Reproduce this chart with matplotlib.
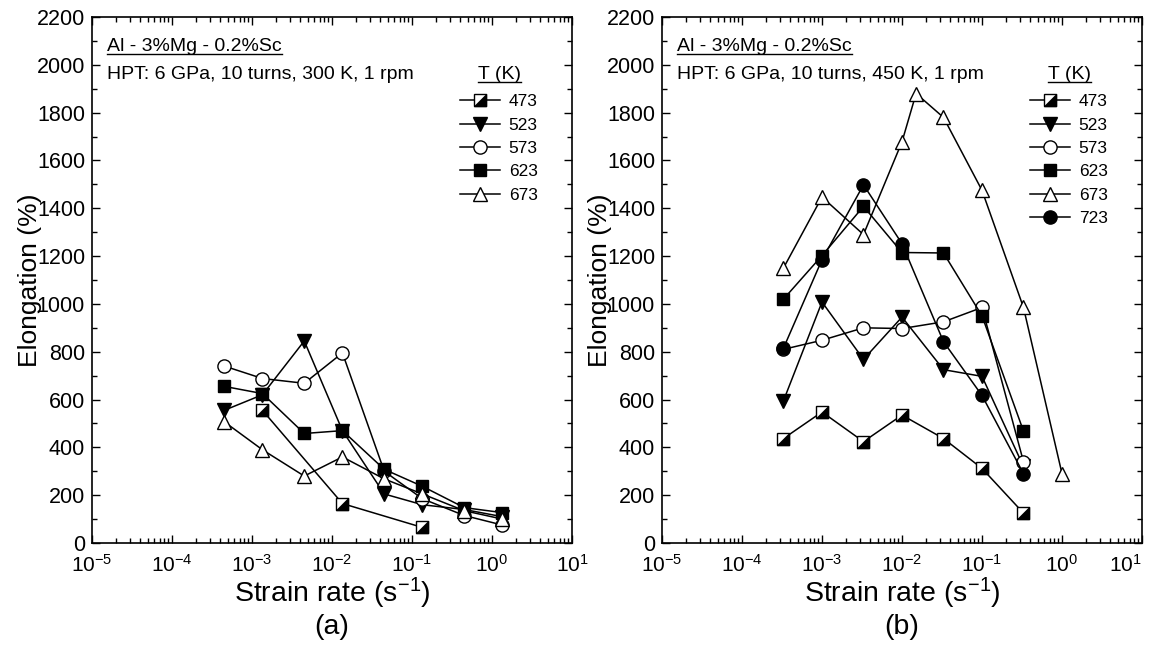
import numpy as np
import matplotlib
matplotlib.use("Agg")
import matplotlib.pyplot as plt
from matplotlib.lines import Line2D
from matplotlib.legend_handler import HandlerTuple
from matplotlib.ticker import MultipleLocator, LogLocator, NullFormatter

plt.rcParams['font.family'] = ['Liberation Sans', 'DejaVu Sans']
plt.rcParams['mathtext.fontset'] = 'custom'
plt.rcParams['mathtext.rm'] = 'Liberation Sans'
plt.rcParams['mathtext.it'] = 'Liberation Sans'
plt.rcParams['mathtext.default'] = 'regular'

# ---- data, panel (a): HPT at 300 K ----
rate_a = [4.5e-4, 1.35e-3, 4.5e-3, 1.35e-2, 4.5e-2, 0.135, 0.45, 1.35]
rate_a_473 = [1.35e-3, 1.35e-2, 0.135]
el_a_473 = [555, 165, 65]
el_a_523 = [555, 620, 845, 470, 205, 160, 140, 110]
el_a_573 = [740, 688, 668, 795, 300, 185, 115, 75]
el_a_623 = [655, 625, 458, 470, 308, 237, 148, 127]
el_a_673 = [507, 390, 280, 360, 268, 205, 135, 100]

# ---- data, panel (b): HPT at 450 K ----
rate_b = [3.3e-4, 1e-3, 3.3e-3, 1e-2, 3.3e-2, 0.1, 0.33]
rate_b_673 = [3.3e-4, 1e-3, 3.3e-3, 1e-2, 1.5e-2, 3.3e-2, 0.1, 0.33, 1.0]
el_b_473 = [437, 548, 424, 535, 437, 312, 125]
el_b_523 = [595, 1008, 768, 945, 725, 697, 320]
el_b_573 = [810, 848, 900, 897, 925, 985, 340]
el_b_623 = [1020, 1202, 1408, 1215, 1213, 950, 468]
el_b_673 = [1150, 1447, 1290, 1678, 1880, 1780, 1475, 985, 290]
el_b_723 = [815, 1185, 1498, 1252, 842, 617, 290]

labels_a = ['473', '523', '573', '623', '673']
labels_b = ['473', '523', '573', '623', '673', '723']

# lower-right half of a square, black
half_tri = [(-1, -1), (1, -1), (1, 1), (-1, -1)]

fig = plt.figure(figsize=(11.5, 6.45), dpi=100)
ax_a = fig.add_axes([92 / 1150, 102 / 645, 480 / 1150, 526 / 645])
ax_b = fig.add_axes([662 / 1150, 102 / 645, 480 / 1150, 526 / 645])

lw = 1.1
ms = 9.5


def series(ax, x, y, kind):
    if kind == 'half':
        l1, = ax.plot(x, y, '-', color='k', lw=lw, marker='s', ms=ms - 0.5,
                      mfc='white', mec='k', mew=1.0)
        l2, = ax.plot(x, y, ls='none', marker=half_tri, ms=ms - 0.5,
                      mfc='k', mec='k', mew=0.6)
        return (l1, l2)
    style = {'tri_down': dict(marker='v', ms=ms + 1, mfc='k'),
             'circle_open': dict(marker='o', ms=ms, mfc='white'),
             'square': dict(marker='s', ms=ms - 0.5, mfc='k'),
             'tri_open': dict(marker='^', ms=ms + 1, mfc='white'),
             'circle': dict(marker='o', ms=ms, mfc='k')}[kind]
    l, = ax.plot(x, y, '-', color='k', lw=lw, mec='k', mew=1.0, **style)
    return l


h_a = [series(ax_a, rate_a_473, el_a_473, 'half'),
       series(ax_a, rate_a, el_a_523, 'tri_down'),
       series(ax_a, rate_a, el_a_573, 'circle_open'),
       series(ax_a, rate_a, el_a_623, 'square'),
       series(ax_a, rate_a, el_a_673, 'tri_open')]

h_b = [series(ax_b, rate_b, el_b_473, 'half'),
       series(ax_b, rate_b, el_b_523, 'tri_down'),
       series(ax_b, rate_b, el_b_573, 'circle_open'),
       series(ax_b, rate_b, el_b_623, 'square'),
       series(ax_b, rate_b_673, el_b_673, 'tri_open'),
       series(ax_b, rate_b, el_b_723, 'circle')]

underlined = []
for ax, hpt, handles, labels, tag in [
        (ax_a, 'HPT: 6 GPa, 10 turns, 300 K, 1 rpm', h_a, labels_a, '(a)'),
        (ax_b, 'HPT: 6 GPa, 10 turns, 450 K, 1 rpm', h_b, labels_b, '(b)')]:
    ax.set_xscale('log')
    ax.set_xlim(1e-5, 10)
    ax.set_ylim(0, 2200)
    ax.yaxis.set_major_locator(MultipleLocator(200))
    ax.yaxis.set_minor_locator(MultipleLocator(100))
    ax.xaxis.set_major_locator(LogLocator(base=10, numticks=20))
    ax.xaxis.set_minor_locator(LogLocator(base=10, subs=np.arange(2, 10), numticks=20))
    ax.xaxis.set_minor_formatter(NullFormatter())
    ax.tick_params(which='both', direction='in', top=True, right=True,
                   width=1.0, labelsize=15.5, colors='k')
    ax.tick_params(axis='x', labelsize=15)
    ax.tick_params(which='major', length=6)
    ax.tick_params(which='minor', length=3.5)
    ax.tick_params(axis='x', which='major', pad=8)
    ax.tick_params(axis='y', which='major', pad=5)
    for s in ax.spines.values():
        s.set_linewidth(1.2)
    ax.set_ylabel('Elongation (%)', fontsize=19)
    ax.yaxis.set_label_coords(-0.105, 0.5)
    ax.set_xlabel('Strain rate (s$^{-1}$)\n' + tag, fontsize=20.5,
                  linespacing=1.15, labelpad=0)

    t1 = ax.text(0.032, 0.935, 'Al - 3%Mg - 0.2%Sc', transform=ax.transAxes,
                 fontsize=14, va='baseline', ha='left')
    ax.text(0.032, 0.882, hpt, transform=ax.transAxes,
            fontsize=14, va='baseline', ha='left')
    t2 = ax.text(0.848, 0.882, 'T (K)', transform=ax.transAxes,
                 fontsize=14, va='baseline', ha='center')
    underlined += [(ax, t1), (ax, t2)]

    ax.legend(handles, labels, loc='upper left', bbox_to_anchor=(0.767, 0.853),
              frameon=False, fontsize=12.5, handlelength=2.3, handletextpad=0.5,
              labelspacing=0.47, borderpad=0, borderaxespad=0,
              handler_map={tuple: HandlerTuple(ndivide=1, pad=0)})

fig.canvas.draw()

# keep the last tick label of panel (b) inside the picture
for tick in ax_b.xaxis.get_major_ticks():
    if np.isclose(tick.get_loc(), 10):
        tick.label1.set_horizontalalignment('right')

renderer = fig.canvas.get_renderer()
W, H = fig.get_size_inches() * fig.dpi
for ax, t in underlined:
    bb = t.get_window_extent(renderer)
    x0, ybase = ax.transAxes.transform(t.get_position())
    yl = ybase - 3
    fig.add_artist(Line2D([bb.x0 / W, bb.x1 / W], [yl / H, yl / H],
                          color='k', lw=1.0, transform=fig.transFigure))

fig.savefig('out.png', dpi=100)
